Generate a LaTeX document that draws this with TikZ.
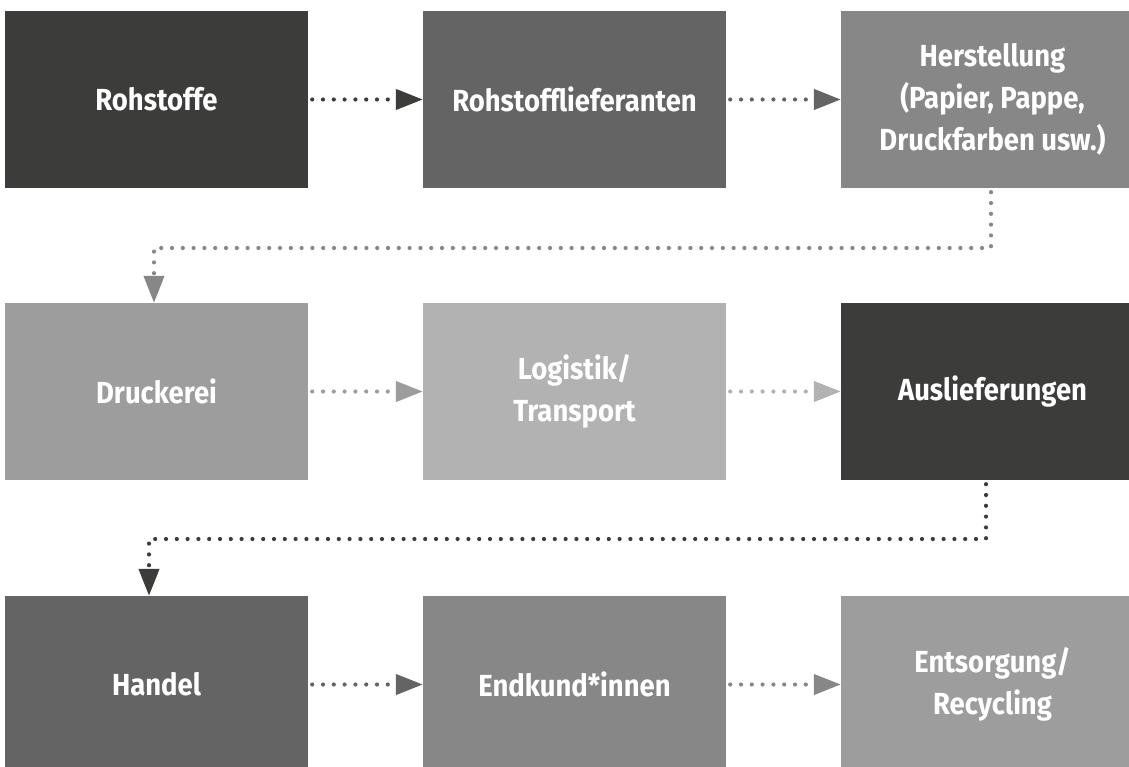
\documentclass[tikz,border=0pt]{standalone}
\usepackage{fontspec}
\setmainfont{Fira Sans}[FakeStretch=0.9]
\usetikzlibrary{arrows.meta}
\definecolor{g1}{HTML}{3C3C3B}
\definecolor{g2}{HTML}{646464}
\definecolor{g3}{HTML}{878787}
\definecolor{g4}{HTML}{9D9D9D}
\definecolor{g5}{HTML}{B2B2B2}
\tikzset{
  box/.style={fill=#1, draw=none, minimum width=303pt, minimum height=177pt, inner sep=0pt,
    align=center, text=white, font=\fontsize{30.5}{42}\selectfont\bfseries},
  flow/.style={draw=#1, line width=4.2pt, line cap=round, dash pattern=on 0pt off 10.8pt,
    -{Triangle[length=27pt,width=20pt,fill=#1]}, shorten <=4pt},
}
\begin{document}
\begin{tikzpicture}[x=1pt,y=-1pt]
\clip (0,0) rectangle (1129,767);
\fill[white] (0,0) rectangle (1129,767);
% row 1
\node[box=g1] (b1) at (156.5,99.5) {Rohstoffe};
\node[box=g2] (b2) at (574.5,99.5) {Rohstofflieferanten};
\node[box=g3] (b3) at (992.5,99.5) {Herstellung\\(Papier, Pappe,\\Druckfarben usw.)};
% row 2
\node[box=g4] (b4) at (156.5,391.5) {Druckerei};
\node[box=g5] (b5) at (574.5,391.5) {Logistik/\\Transport};
\node[box=g1] (b6) at (992.5,391.5) {Auslieferungen};
% row 3
\node[box=g2] (b7) at (156.5,684.5) {Handel};
\node[box=g3] (b8) at (574.5,684.5) {Endkund*innen};
\node[box=g4] (b9) at (992.5,684.5) {Entsorgung/\\Recycling};
% connectors
\draw[flow=g1] (b1) -- (b2);
\draw[flow=g2] (b2) -- (b3);
\coordinate (k1) at (991,248);
\coordinate (k2) at (154,248);
\draw[flow=g3] (b3.south -| k1) -- (k1) -- (k2) -- (b4.north -| k2);
\draw[flow=g4] (b4) -- (b5);
\draw[flow=g5] (b5) -- (b6);
\coordinate (k3) at (986,539);
\coordinate (k4) at (149,539);
\draw[flow=g1] (b6.south -| k3) -- (k3) -- (k4) -- (b7.north -| k4);
\draw[flow=g2] (b7) -- (b8);
\draw[flow=g3] (b8) -- (b9);
\end{tikzpicture}
\end{document}
